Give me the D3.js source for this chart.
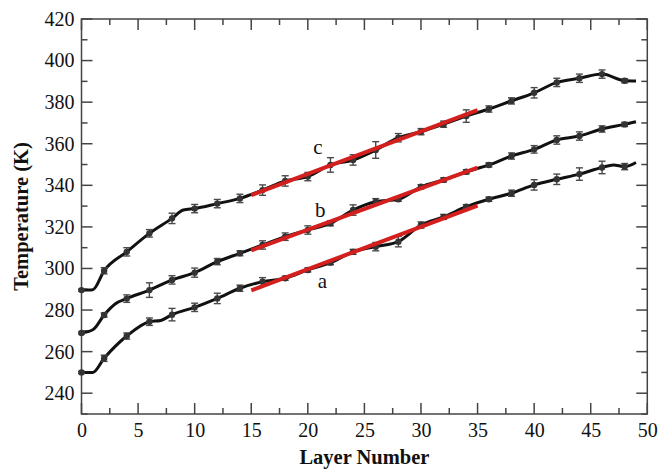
<!DOCTYPE html>
<html><head><meta charset="utf-8">
<script src="https://cdn.jsdelivr.net/npm/d3@7"></script>
<style>body{margin:0;background:#fff}svg{display:block}</style>
</head><body>
<script>
// ---- data ----
const seriesNames = ["a","b","c"];
// line vertices (layer, temperature)
const lineLayersA = [0,1,2,4,6,7,8,10,12,14,16,18,20,22,24,26,28,30,32,34,36,38,40,42,44,46,47,48,49];
const lineTempsA  = [250,250,256.8,267.5,274.4,275,277.8,281.3,285.6,290.5,293.6,295.3,299.3,302.8,308,310.5,312.9,320.9,324.8,329.7,333.3,336.2,340.2,342.9,345.4,348.6,349.8,349,351];
const lineLayersB = [0,1,2,3,4,6,8,10,12,14,16,18,20,22,24,26,28,30,32,34,36,38,40,42,44,46,48,49];
const lineTempsB  = [269,270.5,277.6,283,285.5,289.6,294.5,298,303.3,307.3,311.3,315.3,318.5,321.7,328.1,332.1,333.3,339.3,342.6,346.5,349.8,354.1,357.3,361.8,363.7,367.1,369.3,370.6];
const lineLayersC = [0,1,2,4,6,8,9,10,12,14,16,18,20,22,24,26,28,30,32,34,36,38,40,42,44,46,48,49];
const lineTempsC  = [289.6,289.8,298.9,308,316.9,324.1,328.1,328.8,331.2,333.7,337.7,342.1,344.2,349.8,352.2,357,362.9,365.8,369.4,373.3,376.7,380.6,384.5,389.5,391.5,393.5,390.3,390.2];
// markers with error bars at even layers
const markerLayers = [0,2,4,6,8,10,12,14,16,18,20,22,24,26,28,30,32,34,36,38,40,42,44,46,48];
const errA = [0.5,1.5,1.5,1.8,3.0,2.0,2.5,1.5,2.0,1.0,1.0,1.0,1.2,2.0,2.5,1.5,1.2,1.0,1.0,1.5,2.5,2.5,3.0,3.0,1.5];
const errB = [0.5,1.0,1.8,3.5,2.0,2.2,1.5,1.2,2.0,1.8,2.0,1.2,2.5,1.5,1.0,1.0,1.0,1.0,1.0,1.5,1.8,2.0,2.0,1.5,1.0];
const errC = [0.5,1.5,2.0,1.8,2.5,2.0,2.0,2.0,2.5,2.5,2.0,3.5,2.5,4.0,2.0,1.5,1.5,3.0,1.5,1.5,2.5,2.0,2.0,2.0,1.0];
// linear fits (red)
const fitLayers = [15,35];
const fitA = [289.5,330.2];
const fitB = [308.7,348.5];
const fitC = [335.3,376.2];
// labels
const labelLayers = [21.3,21.1,20.9];
const labelTemps = [294,328.5,358.5];
const xTicks = [0,5,10,15,20,25,30,35,40,45,50];
const yTicks = [240,260,280,300,320,340,360,380,400,420];

// ---- layout ----
const W=659,H=469;
const m={l:81.5,r:11.7,t:19,b:55};
const x=d3.scaleLinear().domain([0,50]).range([m.l,W-m.r]);
const y=d3.scaleLinear().domain([230,420]).range([H-m.b,m.t]);
const svg=d3.select("body").append("svg").attr("width",W).attr("height",H);
const font="'Liberation Serif','Times New Roman',serif";

const series=[
  {lx:lineLayersA,ly:lineTempsA,err:errA,fit:fitA},
  {lx:lineLayersB,ly:lineTempsB,err:errB,fit:fitB},
  {lx:lineLayersC,ly:lineTempsC,err:errC,fit:fitC}
];

// frame
svg.append("rect").attr("x",x(0)).attr("y",y(420)).attr("width",x(50)-x(0)).attr("height",y(230)-y(420))
  .attr("fill","none").attr("stroke","#444").attr("stroke-width",1.5);

// ticks (inward, all sides)
const xMinor=d3.range(0,50.01,2.5), yMinor=d3.range(230,420.01,10);
const tk=svg.append("g").attr("stroke","#444").attr("stroke-width",1.5);
xMinor.forEach(v=>{const L=(v%5===0)?11:6;
  tk.append("line").attr("x1",x(v)).attr("x2",x(v)).attr("y1",y(230)).attr("y2",y(230)-L);
  tk.append("line").attr("x1",x(v)).attr("x2",x(v)).attr("y1",y(420)).attr("y2",y(420)+L);});
yMinor.forEach(v=>{const L=(v%20===0)?11:6;
  tk.append("line").attr("y1",y(v)).attr("y2",y(v)).attr("x1",x(0)).attr("x2",x(0)+L);
  tk.append("line").attr("y1",y(v)).attr("y2",y(v)).attr("x1",x(50)).attr("x2",x(50)-L);});

// tick labels via axes (no lines)
const xa=svg.append("g").attr("transform",`translate(0,${y(230)})`).call(d3.axisBottom(x).tickValues(xTicks).tickSize(0).tickPadding(9).tickFormat(d3.format("d")));
const ya=svg.append("g").attr("transform",`translate(${x(0)},0)`).call(d3.axisLeft(y).tickValues(yTicks).tickSize(0).tickPadding(7).tickFormat(d3.format("d")));
[xa,ya].forEach(a=>{a.select(".domain").remove();a.selectAll("text").attr("font-family",font).attr("font-size",20).attr("fill","#111");});

// axis titles
svg.append("text").attr("x",(x(0)+x(50))/2).attr("y",464).attr("text-anchor","middle")
  .attr("font-family",font).attr("font-weight","bold").attr("font-size",20.5).attr("fill","#111").text("Layer Number");
svg.append("text").attr("transform",`translate(28,${(y(230)+y(420))/2}) rotate(-90)`).attr("text-anchor","middle")
  .attr("font-family",font).attr("font-weight","bold").attr("font-size",20.5).attr("fill","#111").text("Temperature (K)");

// lines
const line=d3.line().x(d=>x(d[0])).y(d=>y(d[1])).curve(d3.curveMonotoneX);
series.forEach(s=>{
  svg.append("path").datum(s.lx.map((v,i)=>[v,s.ly[i]])).attr("d",line)
    .attr("fill","none").attr("stroke","#111").attr("stroke-width",3).attr("stroke-linejoin","round");
});
// error bars and markers
series.forEach(s=>{
  const g=svg.append("g");
  markerLayers.forEach((L,i)=>{
    const idx=s.lx.indexOf(L); const v=s.ly[idx]; const e=s.err[i];
    g.append("line").attr("x1",x(L)).attr("x2",x(L)).attr("y1",y(v-e)).attr("y2",y(v+e)).attr("stroke","#4a4a4a").attr("stroke-width",1.4);
    [v-e,v+e].forEach(t=>g.append("line").attr("x1",x(L)-3.5).attr("x2",x(L)+3.5).attr("y1",y(t)).attr("y2",y(t)).attr("stroke","#4a4a4a").attr("stroke-width",1.4));
    g.append("circle").attr("cx",x(L)).attr("cy",y(v)).attr("r",3.2).attr("fill","#333");
  });
});
// fits
series.forEach(s=>{
  svg.append("line").attr("x1",x(fitLayers[0])).attr("y1",y(s.fit[0])).attr("x2",x(fitLayers[1])).attr("y2",y(s.fit[1]))
    .attr("stroke","#d41f1f").attr("stroke-width",4);
});
// labels
seriesNames.forEach((n,i)=>{
  svg.append("text").attr("x",x(labelLayers[i])).attr("y",y(labelTemps[i])).attr("dy","0.35em").attr("text-anchor","middle")
    .attr("font-family",font).attr("font-size",21).attr("fill","#111").text(n);
});
</script>
</body></html>
